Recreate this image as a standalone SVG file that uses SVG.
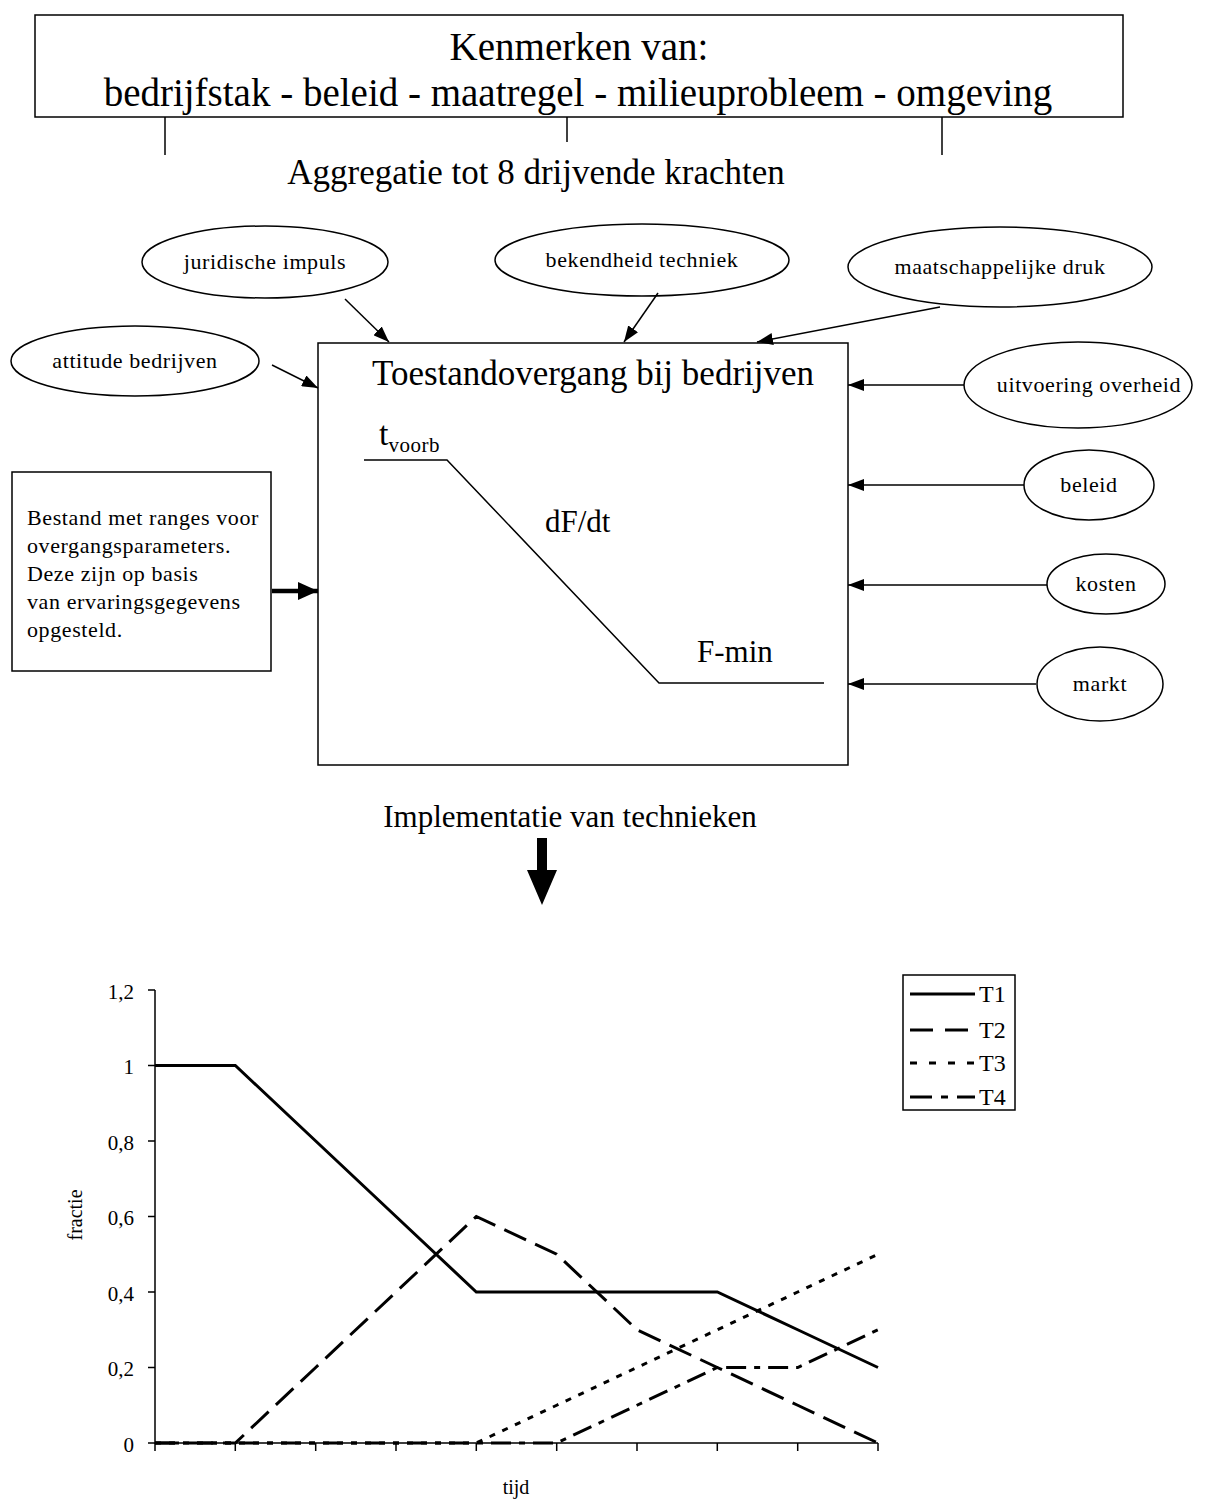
<svg xmlns="http://www.w3.org/2000/svg" width="1208" height="1501" viewBox="0 0 1208 1501">
<style>
text{font-family:"Liberation Serif","Times New Roman",serif;fill:#000}
.big{font-size:39px}
.mid{font-size:35px}
.sm{font-size:22px;letter-spacing:0.6px}
.ax{font-size:21px}
.lg{font-size:24px}
.c{text-anchor:middle}
.shape{fill:#fff;stroke:#000;stroke-width:1.5}
.ln{fill:none;stroke:#000;stroke-width:1.5}
.s{fill:none;stroke:#000;stroke-width:3}
</style>
<defs>
<marker id="ah" viewBox="0 0 16 12" refX="16" refY="6" markerWidth="16" markerHeight="12" markerUnits="userSpaceOnUse" orient="auto">
<path d="M0,0 L16,6 L0,12 Z" fill="#000"/>
</marker>
<marker id="ahb" viewBox="0 0 20 18" refX="20" refY="9" markerWidth="20" markerHeight="18" markerUnits="userSpaceOnUse" orient="auto">
<path d="M0,0 L20,9 L0,18 Z" fill="#000"/>
</marker>
</defs>
<rect width="1208" height="1501" fill="#fff"/>

<g id="kenmerken">
<rect class="shape" x="35" y="15" width="1088" height="102"/>
<text class="big c" x="579" y="60">Kenmerken van:</text>
<text class="big c" x="578" y="106">bedrijfstak - beleid - maatregel - milieuprobleem - omgeving</text>
</g>

<g id="aggregatie">
<text class="mid c" x="536" y="184">Aggregatie tot 8 drijvende krachten</text>
</g>

<g id="juridische">
<ellipse class="shape" cx="265" cy="262" rx="123" ry="36"/>
<text class="sm c" x="265" y="269">juridische impuls</text>
</g>
<g id="bekendheid">
<ellipse class="shape" cx="642" cy="260" rx="147" ry="36"/>
<text class="sm c" x="642" y="267">bekendheid techniek</text>
</g>
<g id="maatschappelijke">
<ellipse class="shape" cx="1000" cy="267" rx="152" ry="40"/>
<text class="sm c" x="1000" y="274">maatschappelijke druk</text>
</g>
<g id="attitude">
<ellipse class="shape" cx="135" cy="361" rx="124" ry="35"/>
<text class="sm c" x="135" y="368">attitude bedrijven</text>
</g>
<g id="uitvoering">
<ellipse class="shape" cx="1078" cy="385" rx="114" ry="43"/>
<text class="sm c" x="1089" y="392">uitvoering overheid</text>
</g>
<g id="beleid">
<ellipse class="shape" cx="1089" cy="485" rx="65" ry="35"/>
<text class="sm c" x="1089" y="492">beleid</text>
</g>
<g id="kosten">
<ellipse class="shape" cx="1106" cy="584" rx="59" ry="30"/>
<text class="sm c" x="1106" y="591">kosten</text>
</g>
<g id="markt">
<ellipse class="shape" cx="1100" cy="684" rx="63" ry="37"/>
<text class="sm c" x="1100" y="691">markt</text>
</g>

<g id="bestand">
<rect class="shape" x="12" y="472" width="259" height="199"/>
<text class="sm" x="27" y="525">Bestand met ranges voor</text>
<text class="sm" x="27" y="553">overgangsparameters.</text>
<text class="sm" x="27" y="581">Deze zijn op basis</text>
<text class="sm" x="27" y="609">van ervaringsgegevens</text>
<text class="sm" x="27" y="637">opgesteld.</text>
</g>

<g id="toestandovergang">
<rect class="shape" x="318" y="343" width="530" height="422"/>
<text class="mid c" x="593" y="385">Toestandovergang bij bedrijven</text>
<text x="379" y="445" style="font-size:34px">t<tspan style="font-size:21px;letter-spacing:0.5px" dy="7">voorb</tspan></text>
<polyline class="ln" points="364,460 447,460 659,683 824,683"/>
<text x="545" y="532" style="font-size:31px">dF/dt</text>
<text x="697" y="662" style="font-size:31px">F-min</text>
</g>

<g id="connectors">
<line class="ln" x1="345" y1="299" x2="389" y2="342" marker-end="url(#ah)"/>
<line class="ln" x1="658" y1="293" x2="624" y2="342" marker-end="url(#ah)"/>
<line class="ln" x1="940" y1="307" x2="757" y2="342" marker-end="url(#ah)"/>
<line class="ln" x1="272" y1="365" x2="318" y2="388" marker-end="url(#ah)"/>
<line class="ln" x1="964" y1="385" x2="848" y2="385" marker-end="url(#ah)"/>
<line class="ln" x1="1024" y1="485" x2="848" y2="485" marker-end="url(#ah)"/>
<line class="ln" x1="1047" y1="585" x2="848" y2="585" marker-end="url(#ah)"/>
<line class="ln" x1="1036" y1="684" x2="848" y2="684" marker-end="url(#ah)"/>
<line x1="272" y1="591" x2="318" y2="591" stroke="#000" stroke-width="4.5" marker-end="url(#ahb)"/>
<line class="ln" x1="165" y1="117" x2="165" y2="155"/>
<line class="ln" x1="567" y1="117" x2="567" y2="142"/>
<line class="ln" x1="942" y1="117" x2="942" y2="155"/>
<path d="M537,838 H547 V870 H557 L542,905 L527,870 H537 Z" fill="#000"/>
</g>

<g id="implementatie">
<text class="c" x="570" y="827" style="font-size:31px">Implementatie van technieken</text>
</g>

<g id="chart">
<path class="ln" d="M155,990 V1443 H878"/>
<path class="ln" d="M148,990 H155 M148,1065.5 H155 M148,1141 H155 M148,1216.5 H155 M148,1292 H155 M148,1367.5 H155 M148,1443 H155"/>
<path class="ln" d="M155,1443 V1451 M235.3,1443 V1451 M315.7,1443 V1451 M396,1443 V1451 M476.3,1443 V1451 M556.7,1443 V1451 M637,1443 V1451 M717.3,1443 V1451 M797.7,1443 V1451 M878,1443 V1451"/>
<g text-anchor="end">
<text class="ax" x="134" y="999">1,2</text>
<text class="ax" x="134" y="1074">1</text>
<text class="ax" x="134" y="1150">0,8</text>
<text class="ax" x="134" y="1225">0,6</text>
<text class="ax" x="134" y="1301">0,4</text>
<text class="ax" x="134" y="1376">0,2</text>
<text class="ax" x="134" y="1452">0</text>
</g>
<text transform="translate(82,1215) rotate(-90)" text-anchor="middle" style="font-size:20px">fractie</text>
<text class="c" x="516" y="1494" style="font-size:20px">tijd</text>
<polyline class="s" points="155,1065.5 235.3,1065.5 315.7,1141 396,1216.5 476.3,1292 556.7,1292 637,1292 717.3,1292 797.7,1329.75 878,1367.5"/>
<polyline class="s" stroke-dasharray="24,10" points="155,1443 235.3,1443 315.7,1367.5 396,1292 476.3,1216.5 556.7,1254.25 637,1329.75 717.3,1367.5 797.7,1405.25 878,1443"/>
<polyline class="s" stroke-dasharray="6,8" points="155,1443 235.3,1443 315.7,1443 396,1443 476.3,1443 556.7,1405.25 637,1367.5 717.3,1329.75 797.7,1292 878,1254.25"/>
<polyline class="s" stroke-dasharray="20,8,6,8" points="155,1443 235.3,1443 315.7,1443 396,1443 476.3,1443 556.7,1443 637,1405.25 717.3,1367.5 797.7,1367.5 878,1329.75"/>
</g>

<g id="legend">
<rect class="ln" x="903" y="975" width="112" height="135" fill="#fff"/>
<line class="s" x1="910" y1="994" x2="975" y2="994"/>
<line class="s" stroke-dasharray="23,12" x1="910" y1="1030" x2="975" y2="1030"/>
<line class="s" stroke-dasharray="7,12" x1="910" y1="1063" x2="975" y2="1063"/>
<line class="s" stroke-dasharray="22,9,7,9" x1="910" y1="1097" x2="975" y2="1097"/>
<text class="lg" x="979" y="1002">T1</text>
<text class="lg" x="979" y="1038">T2</text>
<text class="lg" x="979" y="1071">T3</text>
<text class="lg" x="979" y="1105">T4</text>
</g>
</svg>
